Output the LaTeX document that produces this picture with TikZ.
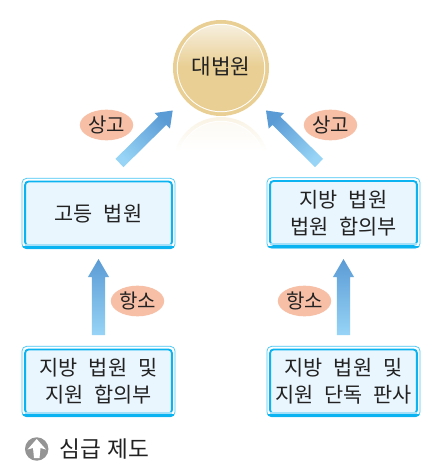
\documentclass[tikz,border=0pt]{standalone}
\usepackage{fontspec}
\setmainfont{Noto Sans CJK KR}
\usetikzlibrary{calc,shapes.geometric}
\definecolor{gold}{HTML}{E9CF94}
\definecolor{goldlight}{HTML}{F7F0E0}
\definecolor{cyanline}{HTML}{0BB4F0}
\definecolor{cyanlight}{HTML}{7FD3F5}
\definecolor{boxfill}{HTML}{EAF6FE}
\definecolor{salmon}{HTML}{F6BFA6}
\definecolor{ink}{HTML}{222222}
\definecolor{arrowtail}{HTML}{97D4F6}
\definecolor{arrowhead}{HTML}{5B9BD5}
\tikzset{
  px/.style={x=0.75pt,y=-0.75pt},
  courtbox/.style={rectangle,rounded corners=2.5pt,draw=cyanline,line width=1.4pt,fill=boxfill,
    minimum width=110pt,minimum height=48pt,inner sep=0pt,align=center,
    font=\fontsize{15.6}{20}\selectfont,text=ink},
  tag/.style={ellipse,fill=salmon,minimum width=40pt,minimum height=23pt,inner sep=0pt,
    font=\fontsize{15}{18}\selectfont,text=ink}
}
\newcommand{\ws}{\hspace{0.52em}}
\newcommand{\boxtrim}[1]{%
  \draw[cyanline!75,line width=0.55pt,rounded corners=3.5pt]
    ($(#1.south west)+(-1.7pt,-1.7pt)$) rectangle ($(#1.north east)+(1.7pt,1.7pt)$);
  \begin{scope}
    \clip[rounded corners=3.5pt] ($(#1.south west)+(-1.9pt,-1.9pt)$) rectangle ($(#1.north east)+(1.9pt,1.9pt)$);
    \fill[cyanline] ($(#1.south west)+(-1.9pt,-1.9pt)$) rectangle ($(#1.south east)+(1.9pt,0pt)$);
  \end{scope}
  \fill[cyanlight!70] ($(#1.south west)+(0.7pt,0.7pt)$) rectangle ($(#1.south east)+(-0.7pt,2.2pt)$);
}
% #1 tail, #2 tip, #3 shading angle, #4 shaft half width, #5 head half width, #6 head length
\newcommand{\gradarrow}[6]{%
  \coordinate (#1base) at ($(#2)!#6!(#1)$);
  \shade[top color=arrowhead,bottom color=arrowtail,shading angle=#3]
    ($(#1)!#4!90:(#2)$) -- ($(#1base)!#4!90:(#2)$) -- ($(#1base)!#5!90:(#2)$) -- (#2)
    -- ($(#1base)!#5!-90:(#2)$) -- ($(#1base)!#4!-90:(#2)$) -- ($(#1)!#4!-90:(#2)$) -- cycle;
}
\begin{document}
\begin{tikzpicture}[px]
\useasboundingbox (0,0) rectangle (441,474);
\fill[white] (0,0) rectangle (441,474);

% supreme court disc
\fill[gold] (221,68) circle (48);
\fill[white] (221,68) circle (44.2);
\begin{scope}
\clip (221,68) circle (43.2);
\shade[top color=goldlight,bottom color=gold] (170,24) rectangle (272,66);
\fill[gold] (170,66) rectangle (272,115);
\end{scope}
\node[font=\fontsize{16}{20}\selectfont,text=ink] (top) at (221,67) {대법원};

% reflection of the disc
\begin{scope}
\clip (221,165) circle (48);
\shade[top color=gold!26!white,bottom color=white] (170,117) rectangle (272,151);
\end{scope}
\begin{scope}
\clip (221,165) circle (44.2);
\fill[white] (170,117) rectangle (272,151);
\end{scope}
\begin{scope}
\clip (221,165) circle (43.2);
\shade[top color=gold!12!white,bottom color=white] (170,117) rectangle (272,151);
\end{scope}

% boxes
\node[courtbox] (high) at (98.5,213.5) {고등\ws 법원};
\node[courtbox] (districtA) at (343.5,213) {지방\ws 법원\\법원\ws 합의부};
\node[courtbox] (branch) at (98.5,381.5) {지방\ws 법원\ws 및\\지원\ws 합의부};
\node[courtbox] (single) at (343.5,381.5) {지방\ws 법원\ws 및\\지원\ws 단독\ws 판사};
\boxtrim{high}\boxtrim{districtA}\boxtrim{branch}\boxtrim{single}

% arrow end points
\coordinate (a1) at (119.5,163);
\coordinate (a2) at (172.7,110.5);
\coordinate (b1) at (319,163);
\coordinate (b2) at (266,110.5);
\coordinate (c1) at (98.5,335);
\coordinate (c2) at (98.5,259);
\coordinate (d1) at (343.5,335);
\coordinate (d2) at (343.5,259);
\gradarrow{a1}{a2}{-45}{4.3pt}{8.2pt}{11pt}
\gradarrow{b1}{b2}{45}{4.3pt}{8.2pt}{11pt}
\gradarrow{c1}{c2}{0}{4.9pt}{7.9pt}{13.5pt}
\gradarrow{d1}{d2}{0}{4.9pt}{7.9pt}{13.5pt}

% labels
\node[tag] (sangL) at (106.5,125) {상고};
\node[tag] (sangR) at (330.5,125) {상고};
\node[tag] (hangL) at (137.5,301) {항소};
\node[tag] (hangR) at (304.5,301) {항소};

% legend
\node[circle,fill=black!42,minimum size=17.6pt,inner sep=0pt] (legendicon) at (36.7,449) {};
\fill[white] (36.7,439) -- (46,449.5) -- (40.5,448) -- (39.5,458) -- (34,458) -- (33,448) -- (27.5,449.5) -- cycle;
\node[anchor=west,font=\fontsize{17}{20}\selectfont,text=ink,inner sep=0pt] (legend) at (59,449) {심급\hspace{0.3em}제도};
\end{tikzpicture}
\end{document}
